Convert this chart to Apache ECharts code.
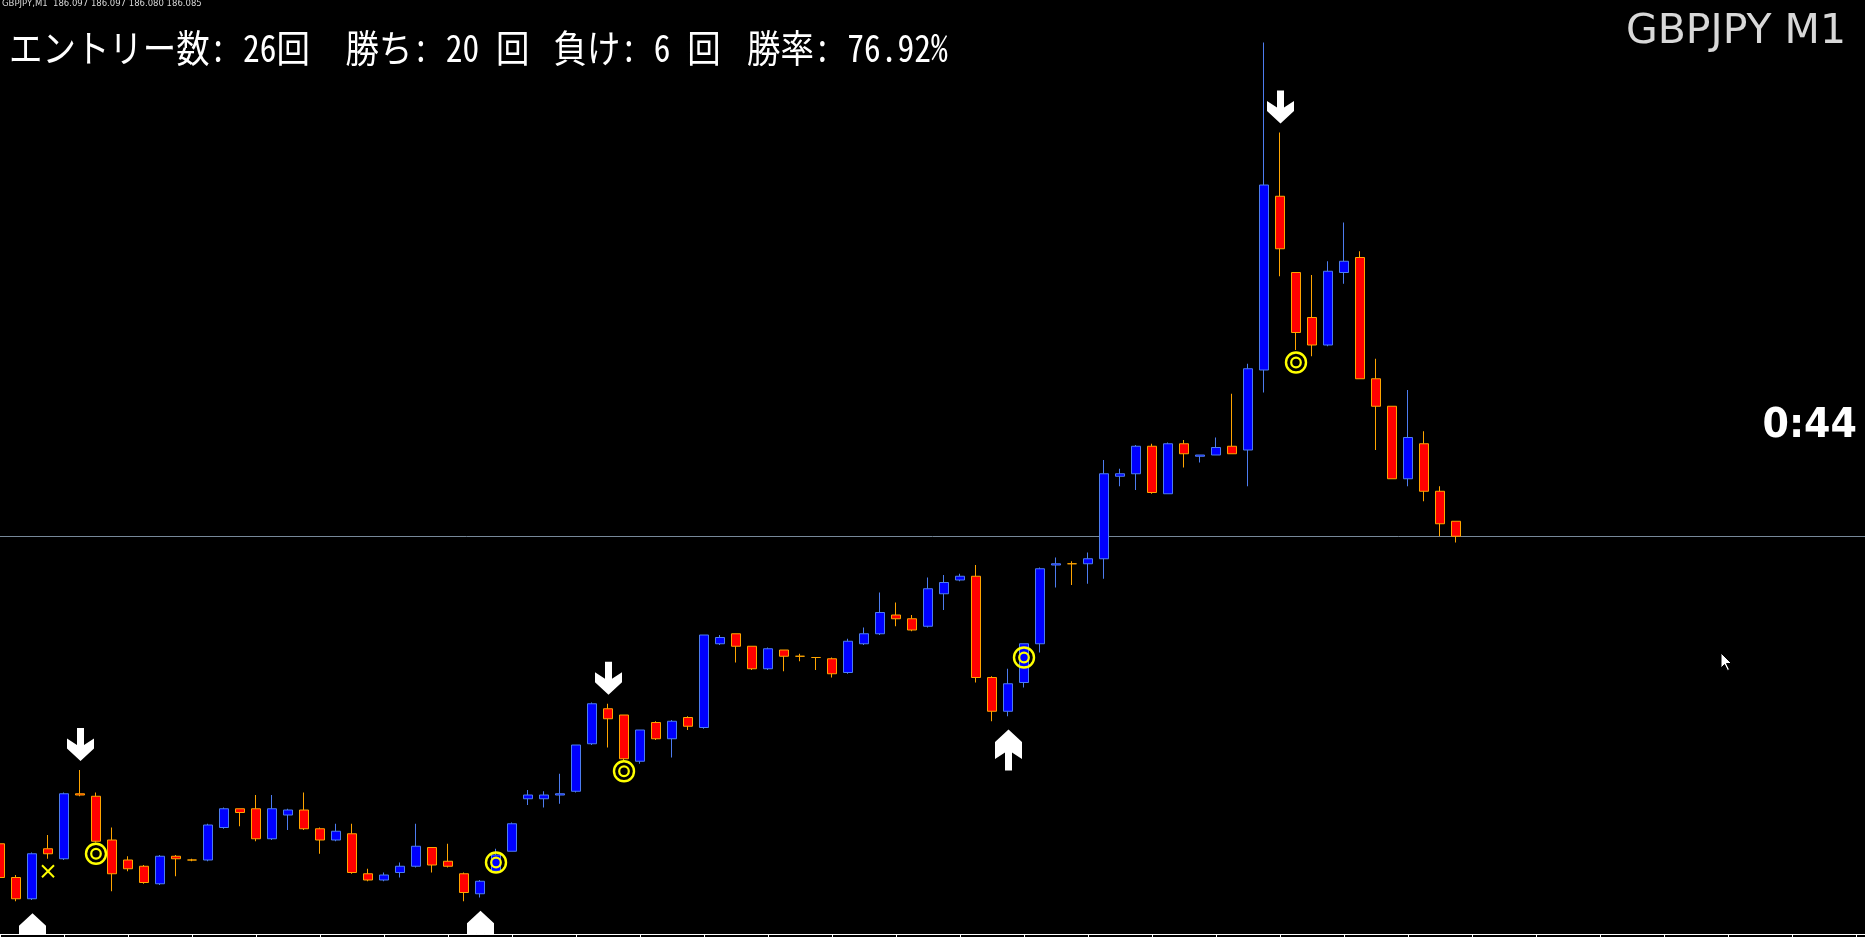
<!DOCTYPE html>
<html>
<head>
<meta charset="utf-8">
<script src="https://cdn.jsdelivr.net/npm/echarts@6/dist/echarts.min.js"></script>
<style>
html,body{margin:0;padding:0;background:#000;overflow:hidden}
#chart{width:1865px;height:937px;background:#000}
</style>
</head>
<body>
<div id="chart"></div>
<script>
// ---------------- data ----------------
const headerText = 'GBPJPY,M1  186.097 186.097 186.080 186.085';
const symbolLabel = 'GBPJPY M1';
const countdownLabel = '0:44';
const statLabels = ['エントリー数: 26回', '勝ち: 20 回', '負け: 6 回', '勝率: 76.92%'];

const openPrices = [
185.839,185.812,185.795,185.835,185.827,185.879,185.877,185.842,185.826,185.821,
185.807,185.829,185.826,185.826,185.852,185.867,185.867,185.843,185.862,185.866,
185.851,185.842,185.847,185.815,185.810,185.816,185.821,185.836,185.825,185.815,
185.799,185.817,185.833,185.875,185.875,185.878,185.881,185.919,185.947,185.942,
185.905,185.936,185.923,185.940,185.932,185.999,186.007,185.997,185.979,185.994,
185.989,185.988,185.987,185.976,185.999,186.007,186.022,186.019,186.013,186.039,
186.050,186.053,185.972,185.945,185.968,185.999,186.062,186.063,186.063,186.067,
186.133,186.135,186.157,186.119,186.159,186.149,186.150,186.157,186.154,186.218,
186.357,186.296,186.260,186.238,186.296,186.308,186.211,186.189,186.131,186.159,
186.121,186.097];
const highPrices = [
185.841,185.814,185.832,185.846,185.880,185.898,185.880,185.852,185.829,185.822,
185.830,185.830,185.827,185.855,185.868,185.867,185.878,185.878,185.867,185.880,
185.852,185.855,185.855,185.819,185.816,185.824,185.855,185.836,185.839,185.816,
185.810,185.835,185.856,185.882,185.881,185.895,185.918,185.952,185.951,185.942,
185.930,185.937,185.938,185.941,186.006,186.006,186.007,185.997,185.996,185.994,
185.991,185.988,185.988,186.003,186.012,186.040,186.032,186.022,186.052,186.054,
186.055,186.062,185.973,185.979,185.999,186.060,186.068,186.065,186.072,186.146,
186.139,186.158,186.159,186.160,186.162,186.150,186.164,186.199,186.223,186.480,
186.408,186.296,186.294,186.305,186.336,186.313,186.227,186.189,186.202,186.169,
186.125,186.097];
const lowPrices = [
185.811,185.793,185.794,185.827,185.826,185.877,185.840,185.801,185.817,185.807,
185.806,185.813,185.825,185.825,185.851,185.853,185.841,185.842,185.850,185.850,
185.831,185.841,185.815,185.809,185.809,185.812,185.820,185.816,185.820,185.793,
185.796,185.816,185.833,185.870,185.868,185.871,185.880,185.918,185.916,185.906,
185.903,185.922,185.908,185.930,185.931,185.998,185.984,185.978,185.978,185.977,
185.985,185.978,185.972,185.975,185.998,186.006,186.013,186.009,186.012,186.026,
186.049,185.968,185.937,185.941,185.964,185.992,186.044,186.046,186.047,186.051,
186.125,186.122,186.119,186.119,186.140,186.144,186.150,186.151,186.125,186.200,
186.293,186.234,186.229,186.237,186.287,186.211,186.154,186.131,186.125,186.113,
186.085,186.080];
const closePrices = [
185.812,185.795,185.831,185.831,185.879,185.878,185.841,185.815,185.819,185.808,
185.829,185.827,185.826,185.854,185.867,185.864,185.843,185.867,185.866,185.851,
185.842,185.849,185.816,185.810,185.814,185.821,185.837,185.822,185.821,185.800,
185.809,185.830,185.855,185.878,185.878,185.879,185.918,185.951,185.939,185.907,
185.930,185.923,185.937,185.933,186.006,186.004,185.997,185.979,185.995,185.989,
185.989,185.988,185.975,186.001,186.007,186.024,186.019,186.010,186.043,186.048,
186.053,185.972,185.945,185.967,185.999,186.059,186.063,186.063,186.067,186.135,
186.135,186.157,186.120,186.159,186.151,186.150,186.156,186.151,186.219,186.366,
186.315,186.248,186.238,186.297,186.305,186.211,186.189,186.131,186.164,186.121,
186.095,186.085];

const bidPrice = 186.085;
const sellSignalBars = [5, 38, 80];
const buySignalBars = [2, 30, 63];
const winMarks = [[6, 185.831], [31, 185.824], [39, 185.897], [64, 185.988], [81, 186.224]];
const lossMarks = [[3, 185.817]];
const emptyBarsRight = 25;          // chart shift area on the right
const priceMin = 185.7668;
const priceMax = 186.514;

// ---------------- build ----------------
const totalBars = openPrices.length + emptyBarsRight;
const categories = [];
for (let i = 0; i < totalBars; i++) categories.push(String(i));
const candleData = [];
for (let i = 0; i < totalBars; i++) {
  if (i < openPrices.length) candleData.push([openPrices[i], closePrices[i], lowPrices[i], highPrices[i]]);
  else candleData.push('-');
}

function fontAvailable(name) {
  const ctx = document.createElement('canvas').getContext('2d');
  const t = 'ab: 12 回%';
  let res = false;
  ['monospace', 'serif'].forEach(f => {
    ctx.font = '40px ' + f; const a = ctx.measureText(t).width;
    ctx.font = "40px '" + name + "', " + f; const b = ctx.measureText(t).width;
    if (Math.abs(a - b) > 0.5) res = true;
  });
  return res;
}
const statFont = fontAvailable('Noto Sans Mono CJK JP') ? 'Noto Sans Mono CJK JP' : 'Noto Sans CJK JP';

const BAR = 16;
const W = 1865;
const chart = echarts.init(document.getElementById('chart'), null, {renderer: 'canvas'});

const downArrow = [[-3.5,-33],[3.5,-33],[3.5,-16],[13.5,-22.5],[13.5,-12.5],[0,0],[-13.5,-12.5],[-13.5,-22.5],[-3.5,-16]];
const upArrow = [[0,0],[13.5,12.5],[13.5,29.5],[3.5,23],[3.5,41],[-3.5,41],[-3.5,23],[-13.5,29.5],[-13.5,12.5]];

const statFontSize = 38;
const statScale = 0.88;
const statBaseline = 64;
const statY = statBaseline - 0.436 * statFontSize;
const segX = [9, 345.5, 553.5, 747];
const statGraphics = statLabels.map((t, i) => ({
  type: 'text', x: segX[i], y: statY, scaleX: statScale, silent: true,
  style: {text: t, fill: '#FFFFFF', font: statFontSize + "px '" + statFont + "'",
          textAlign: 'left', textVerticalAlign: 'middle', verticalAlign: 'middle'}
}));

const option = {
  backgroundColor: '#000000',
  animation: false,
  grid: {left: 0, top: 0, width: BAR * (totalBars - 1), height: 934, containLabel: false},
  xAxis: {
    type: 'category', data: categories, boundaryGap: false,
    axisLine: {show: true, onZero: false, lineStyle: {color: '#FFFFFF', width: 1}},
    axisTick: {show: true, interval: 3, length: 3, inside: false, lineStyle: {color: '#FFFFFF', width: 1}},
    axisLabel: {show: false, interval: 3},
    splitLine: {show: false}
  },
  yAxis: {type: 'value', min: priceMin, max: priceMax, show: false, scale: true, splitLine: {show: false}},
  series: [
    {
      type: 'custom', clip: false, silent: true, z: 1,
      data: [[0, bidPrice]],
      renderItem: (params, api) => {
        const y = Math.round(api.coord([0, api.value(1)])[1] - 0.5) + 0.5;
        return {type: 'line', shape: {x1: 0, y1: y, x2: W, y2: y}, style: {stroke: '#778899', lineWidth: 1}};
      }
    },
    {
      type: 'candlestick', data: candleData, barWidth: 10, clip: true, silent: true,
      itemStyle: {color: '#0000FF', color0: '#FF0000', borderColor: '#4D7CF0', borderColor0: '#FFA500',
                  borderColorDoji: '#FFA500', borderWidth: 1},
      z: 2
    },
    {
      type: 'custom', clip: true, silent: true, z: 5,
      data: sellSignalBars.map(i => [i, highPrices[i]]),
      renderItem: (params, api) => {
        const p = api.coord([api.value(0), api.value(1)]);
        const x = Math.round(p[0] - 0.5) + 0.5, y = p[1] - 9;
        return {type: 'polygon', shape: {points: downArrow.map(d => [x + d[0], y + d[1]])}, style: {fill: '#FFFFFF'}};
      }
    },
    {
      type: 'custom', clip: true, silent: true, z: 5,
      data: buySignalBars.map(i => [i, lowPrices[i]]),
      renderItem: (params, api) => {
        const p = api.coord([api.value(0), api.value(1)]);
        const x = Math.round(p[0] - 0.5) + 0.5, y = p[1] + 13.3;
        return {type: 'polygon', shape: {points: upArrow.map(d => [x + d[0], y + d[1]])}, style: {fill: '#FFFFFF'}};
      }
    },
    {
      type: 'custom', clip: true, silent: true, z: 6,
      data: winMarks,
      renderItem: (params, api) => {
        const p = api.coord([api.value(0), api.value(1)]);
        return {type: 'group', children: [
          {type: 'circle', shape: {cx: p[0], cy: p[1], r: 10}, style: {fill: 'none', stroke: '#FFFF00', lineWidth: 2.4}},
          {type: 'circle', shape: {cx: p[0], cy: p[1], r: 4.8}, style: {fill: 'none', stroke: '#FFFF00', lineWidth: 2.2}}
        ]};
      }
    },
    {
      type: 'custom', clip: true, silent: true, z: 6,
      data: lossMarks,
      renderItem: (params, api) => {
        const p = api.coord([api.value(0), api.value(1)]);
        const s = 6;
        return {type: 'group', children: [
          {type: 'line', shape: {x1: p[0] - s, y1: p[1] - s, x2: p[0] + s, y2: p[1] + s}, style: {stroke: '#FFFF00', lineWidth: 2}},
          {type: 'line', shape: {x1: p[0] - s, y1: p[1] + s, x2: p[0] + s, y2: p[1] - s}, style: {stroke: '#FFFF00', lineWidth: 2}}
        ]};
      }
    }
  ],
  graphic: [
    {type: 'line', silent: true, shape: {x1: 0, y1: 934.5, x2: W, y2: 934.5}, style: {stroke: '#FFFFFF', lineWidth: 1}},
    {type: 'text', x: 2, y: 4, silent: true,
     style: {text: headerText, fill: '#D8D8D8', font: "8.5px 'DejaVu Sans'", textAlign: 'left', textVerticalAlign: 'middle', verticalAlign: 'middle'}},
    ...statGraphics,
    {type: 'text', x: 1846, y: 32.5, silent: true,
     style: {text: symbolLabel, fill: '#D8D8D8', font: "41px 'DejaVu Sans'", textAlign: 'right', textVerticalAlign: 'middle', verticalAlign: 'middle'}},
    {type: 'text', x: 1857, y: 427, scaleX: 0.95, silent: true,
     style: {text: countdownLabel, fill: '#FFFFFF', font: "bold 40px 'DejaVu Sans'", textAlign: 'right', textVerticalAlign: 'middle', verticalAlign: 'middle'}},
    {type: 'polygon', silent: true, z: 100,
     shape: {points: [[1721,653],[1721,668],[1724.5,664.5],[1727.5,670.5],[1729.5,669.5],[1726.5,663.5],[1731.5,663.5]]},
     style: {fill: '#FFFFFF', stroke: '#000000', lineWidth: 1}}
  ]
};
chart.setOption(option);
</script>
</body>
</html>
